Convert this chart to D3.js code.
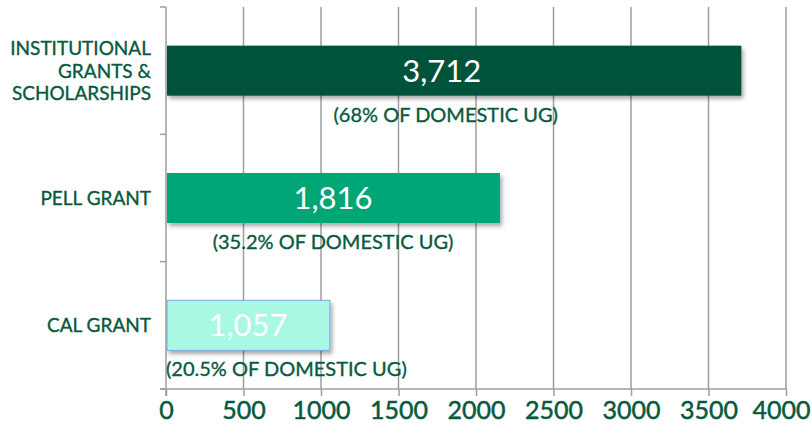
<!DOCTYPE html>
<html>
<head>
<meta charset="utf-8">
<script src="https://cdn.jsdelivr.net/npm/d3@7"></script>
<style>
  html, body { margin: 0; padding: 0; background: #fff; }
  svg { display: block; }
</style>
</head>
<body>
<svg id="chart" width="812" height="434"></svg>
<script>
// ---- data ----
const categories = [["INSTITUTIONAL", "GRANTS &", "SCHOLARSHIPS"], ["PELL GRANT"], ["CAL GRANT"]];
const categoryKeys = ["INSTITUTIONAL GRANTS & SCHOLARSHIPS", "PELL GRANT", "CAL GRANT"];
const barValues = [3712, 2155, 1057];
const valueLabels = ["3,712", "1,816", "1,057"];
const percentLabels = ["(68% OF DOMESTIC UG)", "(35.2% OF DOMESTIC UG)", "(20.5% OF DOMESTIC UG)"];
const xTicks = [0, 500, 1000, 1500, 2000, 2500, 3000, 3500, 4000];
const barColors = ["#00533b", "#00a676", "#a8f8e4"];

(function() {
// ---- layout ----
const W = 812, H = 434;
const pLeft = 166, pRight = 786, pTop = 7, pBottom = 389;
const textColor = "#075a3e";
const font = "Lato, 'Open Sans', sans-serif";
const gridColor = "#9e9e9e";

const svg = d3.select("#chart");

const defs = svg.append("defs");
const f = defs.append("filter").attr("id", "shadow").attr("x", "-5%").attr("y", "-20%").attr("width", "115%").attr("height", "160%");
f.append("feDropShadow").attr("dx", 2).attr("dy", 3).attr("stdDeviation", 2).attr("flood-color", "#000").attr("flood-opacity", 0.35);

const x = d3.scaleLinear().domain([0, 4000]).range([pLeft, pRight]);
const y = d3.scaleBand().domain(categoryKeys).range([pTop, pBottom]).padding(0);
const barH = y.bandwidth() * 0.393;

// gridlines
svg.append("g").selectAll("line").data(xTicks.slice(1)).join("line")
  .attr("x1", d => x(d)).attr("x2", d => x(d))
  .attr("y1", pTop).attr("y2", pBottom)
  .attr("stroke", gridColor).attr("stroke-width", 1.5);

// x axis
const xAxis = svg.append("g").attr("transform", `translate(0,${pBottom})`)
  .call(d3.axisBottom(x).tickValues(xTicks).tickSize(7).tickSizeOuter(0).tickFormat(d3.format("d")));
xAxis.select(".domain").attr("stroke", gridColor).attr("stroke-width", 1.5)
  .attr("d", `M${pLeft - 6},0H${pRight}`);
xAxis.selectAll(".tick line").attr("stroke", gridColor).attr("stroke-width", 1.5);
xAxis.selectAll(".tick text")
  .attr("fill", textColor).attr("stroke", textColor).attr("stroke-width", 0.5)
  .attr("font-family", font).attr("font-size", 25)
  .attr("y", 12).attr("dy", "0.71em")
  .each(function(d) {
    const t = d3.select(this);
    const w = this.getComputedTextLength();
    const cx = x(d);
    if (cx + w / 2 > W - 2) t.attr("x", (W - 2 - w / 2) - cx);
  });

// y axis line and boundary ticks
const yBounds = categoryKeys.map(c => y(c)).concat([pBottom]);
svg.append("line").attr("x1", pLeft).attr("x2", pLeft).attr("y1", pTop).attr("y2", pBottom + 7)
  .attr("stroke", gridColor).attr("stroke-width", 1.5);
svg.append("g").selectAll("line").data(yBounds).join("line")
  .attr("x1", pLeft - 6).attr("x2", pLeft).attr("y1", d => d).attr("y2", d => d)
  .attr("stroke", gridColor).attr("stroke-width", 1.5);

// bars
svg.append("g").selectAll("rect").data(categoryKeys).join("rect")
  .attr("x", x(0) + 1)
  .attr("y", d => y(d) + (y.bandwidth() - barH) / 2)
  .attr("width", (d, i) => x(barValues[i]) - x(0) - 1)
  .attr("height", barH)
  .attr("fill", (d, i) => barColors[i])
  .attr("stroke", (d, i) => i === 2 ? "#7fa6e0" : "none")
  .attr("stroke-width", 1)
  .attr("filter", "url(#shadow)");

// value labels
svg.append("g").selectAll("text").data(categoryKeys).join("text")
  .attr("x", (d, i) => (x(0) + x(barValues[i])) / 2 - (i === 0 ? 12 : 0))
  .attr("y", d => y(d) + y.bandwidth() / 2 + 11)
  .attr("text-anchor", "middle")
  .attr("fill", "#fff").attr("font-family", font).attr("font-weight", 400).attr("font-size", 31)
  .text((d, i) => valueLabels[i]);

// percent labels
svg.append("g").selectAll("text").data(categoryKeys).join("text")
  .attr("y", d => y(d) + (y.bandwidth() + barH) / 2 + 26)
  .attr("text-anchor", "start")
  .attr("fill", textColor).attr("stroke", textColor).attr("stroke-width", 0.35)
  .attr("font-family", font).attr("font-size", 20)
  .text((d, i) => percentLabels[i])
  .each(function(d, i) {
    const w = this.getComputedTextLength();
    const cx = (x(0) + x(barValues[i])) / 2 - (i === 0 ? 8 : 0);
    d3.select(this).attr("x", Math.max(x(0), cx - w / 2));
  });

// category labels
const cat = svg.append("g").selectAll("text").data(categoryKeys).join("text")
  .attr("text-anchor", "end")
  .attr("fill", textColor).attr("stroke", textColor).attr("stroke-width", 0.35)
  .attr("font-family", font).attr("font-size", 19);
cat.each(function(d, i) {
  const lines = categories[i];
  const lh = 22.7;
  const cy = y(d) + y.bandwidth() / 2;
  const first = cy - (lines.length - 1) * lh / 2 + 7;
  d3.select(this).selectAll("tspan").data(lines).join("tspan")
    .attr("x", 151).attr("y", (l, j) => first + j * lh).text(l => l);
});
})();
</script>
</body>
</html>
